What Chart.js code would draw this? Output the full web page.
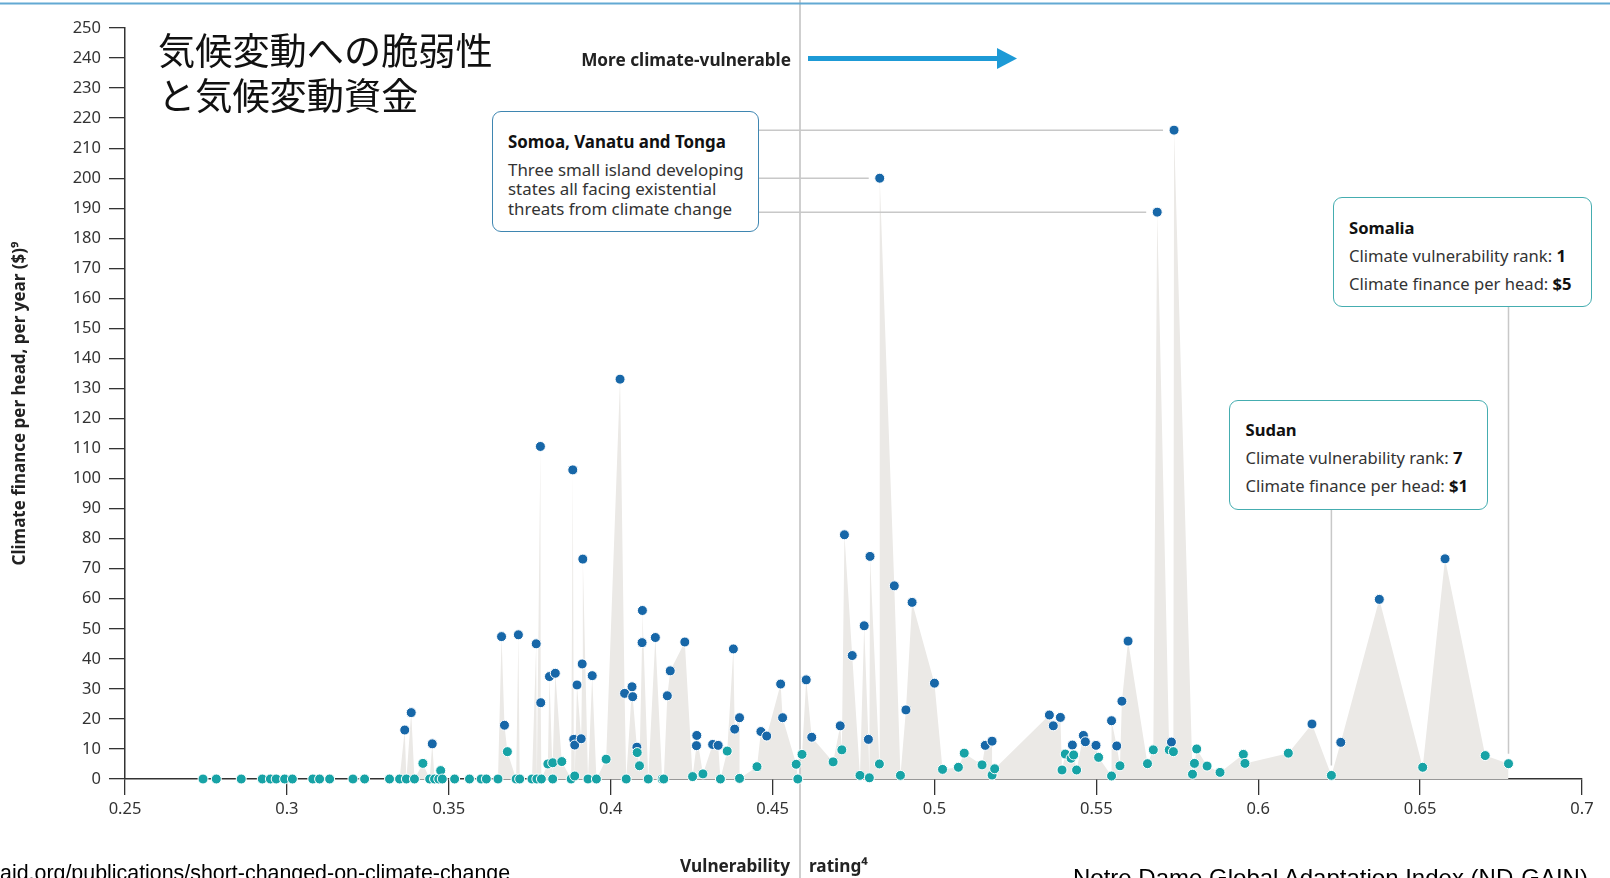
<!DOCTYPE html>
<html>
<head>
<meta charset="utf-8">
<script src="https://cdn.jsdelivr.net/npm/chart.js@4.4.1/dist/chart.umd.min.js"></script>
<style>
html,body{margin:0;padding:0;background:#fff;}
#wrap{position:relative;width:1610px;height:878px;overflow:hidden;font-family:"Noto Sans","Open Sans",sans-serif;color:#222;}
#c{position:absolute;left:0;top:0;}
.abs{position:absolute;white-space:nowrap;}
.box{position:absolute;box-sizing:border-box;border-radius:9px;background:#fff;}
.t{font-size:16.6px;line-height:20px;}
.b{font-weight:700;}
</style>
</head>
<body>
<div id="wrap">
<canvas id="c" width="1610" height="878"></canvas>

<div class="abs" style="left:158px;top:27px;font-family:'Noto Sans CJK JP',sans-serif;font-size:37.2px;line-height:45px;color:#111;">気候変動への脆弱性<br>と気候変動資金</div>

<div class="abs t b" style="right:819px;top:49.5px;color:#222;font-size:17.2px;">More climate-vulnerable</div>
<svg class="abs" style="left:806px;top:46px;" width="214" height="26">
  <rect x="2" y="10" width="191" height="5" fill="#1d9ad6"/>
  <polygon points="191,2 211,12.5 191,23" fill="#1d9ad6"/>
</svg>

<div class="box" style="left:492px;top:111px;width:267px;height:121px;border:1.5px solid #3f86b1;"></div>
<div class="abs t b" style="left:508px;top:131.7px;color:#111;font-size:16.9px;">Somoa, Vanatu and Tonga</div>
<div class="abs t" style="left:508px;top:159.6px;line-height:19.5px;color:#333;font-size:16.9px;">Three small island developing<br>states all facing existential<br>threats from climate change</div>

<div class="box" style="left:1333px;top:197px;width:259px;height:110px;border:1.5px solid #45adb0;"></div>
<div class="abs t b" style="left:1349px;top:218px;color:#111;">Somalia</div>
<div class="abs t" style="left:1349px;top:241.8px;line-height:27.7px;color:#333;">Climate vulnerability rank: <b style="color:#111">1</b><br>Climate finance per head: <b style="color:#111">$5</b></div>

<div class="box" style="left:1229px;top:399.5px;width:259px;height:110px;border:1.5px solid #45adb0;"></div>
<div class="abs t b" style="left:1245.5px;top:420px;color:#111;">Sudan</div>
<div class="abs t" style="left:1245.5px;top:444.2px;line-height:27.7px;color:#333;">Climate vulnerability rank: <b style="color:#111">7</b><br>Climate finance per head: <b style="color:#111">$1</b></div>

<div class="abs t b" style="right:820px;top:856px;color:#222;font-size:17.2px;">Vulnerability</div>
<div class="abs t b" style="left:809px;top:856px;color:#222;font-size:17.2px;">rating⁴</div>

<div class="abs" style="left:0px;top:862px;font-family:'Liberation Sans',Arial,sans-serif;font-size:21.4px;line-height:22px;color:#000;">aid.org/publications/short-changed-on-climate-change</div>
<div class="abs" style="left:1073px;top:864.6px;font-family:'Liberation Sans',Arial,sans-serif;font-size:24px;line-height:26px;color:#000;">Notre Dame Global Adaptation Index (ND-GAIN)</div>
</div>

<script>
// ---- data ----
const vulnerability = [
  0.2741,0.2782,0.2859,0.2924,0.2949,0.2967,0.2993,0.3017,0.3080,0.3101,
  0.3132,0.3204,0.3240,0.3317,0.3348,0.3364,0.3369,0.3384,0.3394,0.3420,
  0.3441,0.3449,0.3456,0.3469,0.3475,0.3480,0.3518,0.3564,0.3600,0.3616,
  0.3652,0.3663,0.3672,0.3681,0.3708,0.3715,0.3719,0.3757,0.3770,0.3772,
  0.3783,0.3784,0.3786,0.3806,0.3811,0.3821,0.3821,0.3829,0.3849,0.3878,
  0.3883,0.3886,0.3889,0.3889,0.3896,0.3909,0.3912,0.3914,0.3930,0.3943,
  0.3956,0.3986,0.4029,0.4043,0.4048,0.4066,0.4068,0.4081,0.4082,0.4089,
  0.4097,0.4098,0.4116,0.4138,0.4159,0.4164,0.4175,0.4184,0.4229,0.4253,
  0.4265,0.4266,0.4285,0.4315,0.4332,0.4339,0.4360,0.4379,0.4383,0.4398,
  0.4398,0.4452,0.4464,0.4482,0.4525,0.4531,0.4573,0.4578,0.4591,0.4604,
  0.4621,0.4687,0.4709,0.4714,0.4722,0.4746,0.4770,0.4783,0.4796,0.4799,
  0.4801,0.4830,0.4831,0.4876,0.4895,0.4912,0.4931,0.5000,0.5025,0.5074,
  0.5092,0.5147,0.5157,0.5178,0.5178,0.5186,0.5355,0.5367,0.5389,0.5394,
  0.5404,0.5422,0.5426,0.5430,0.5439,0.5460,0.5466,0.5499,0.5507,0.5547,
  0.5547,0.5563,0.5573,0.5579,0.5598,0.5658,0.5676,0.5688,0.5725,0.5732,
  0.5738,0.5740,0.5797,0.5803,0.5810,0.5842,0.5882,0.5954,0.5959,0.6093,
  0.6166,0.6226,0.6255,0.6374,0.6508,0.6577,0.6701,0.6773
];
const financePerHead = [
  0,0,0,0,0,0,0,0,0,0,
  0,0,0,0,0,16.3,0,22.1,0,5.2,
  0,11.7,0,0,2.8,0,0,0,0,0,
  0,47.4,17.9,9.1,0,48.0,0,0,45.0,0,
  110.7,25.4,0,5.0,34.1,0,5.4,35.2,5.8,0,
  102.9,13.2,11.3,1.0,31.3,13.4,38.3,73.2,0,34.4,
  0,6.6,133.1,28.5,0,30.7,27.4,10.6,8.8,4.4,
  45.4,56.1,0,47.1,0,0,27.7,36.0,45.6,0.8,
  11.1,14.5,1.7,11.5,11.2,0,9.3,43.3,16.6,20.4,
  0.2,4.1,15.8,14.3,31.6,20.4,4.9,0,8.2,33.0,
  13.9,5.7,17.7,9.7,81.3,41.1,1.2,51.0,13.2,0.4,
  74.1,5.0,200.0,64.3,1.2,23.0,58.8,31.9,3.2,3.9,
  8.6,4.7,11.2,12.6,1.3,3.4,21.3,17.7,20.5,3.0,
  8.3,6.9,11.3,8.0,3.0,14.5,12.4,11.2,7.2,1.0,
  19.4,11.0,4.4,25.9,45.9,5.1,9.7,188.7,9.7,12.3,
  9.1,216.0,1.6,5.2,10.0,4.3,2.2,8.2,5.2,8.6,
  18.3,1.2,12.2,59.8,3.9,73.3,7.8,5.1
];
const xTickValues = [0.25,0.3,0.35,0.4,0.45,0.5,0.55,0.6,0.65,0.7];
const xTickLabels = ['0.25','0.3','0.35','0.4','0.45','0.5','0.55','0.6','0.65','0.7'];
const yTickValues = [0,10,20,30,40,50,60,70,80,90,100,110,120,130,140,150,160,170,180,190,200,210,220,230,240,250];
const highlightRanks = [1, 7];      // Somalia, Sudan (rank by vulnerability)
const islandCount = 3;              // Samoa, Vanuatu, Tonga (largest finance per head)

const BLUE = '#1767a8', TEAL = '#17a3a6', FILL = '#ebe9e6';
const BLUE_THRESHOLD = 10.5;
const FONT = '"Noto Sans","Open Sans",sans-serif';

const points = vulnerability.map((x, i) => ({x: x, y: financePerHead[i]}));

// indices for annotations
const byRank = vulnerability.map((v, i) => i).sort((a, b) => vulnerability[b] - vulnerability[a]);
const islandIdx = financePerHead.map((v, i) => i).sort((a, b) => financePerHead[b] - financePerHead[a]).slice(0, islandCount);
const rankIdx = highlightRanks.map(r => byRank[r - 1]);

const decor = {
  id: 'decor',
  beforeDatasetDraw(chart, args) {
    if (args.index !== 0) return;
    const ctx = chart.ctx;
    ctx.save();
    ctx.strokeStyle = '#cfcfcf';
    ctx.lineWidth = 2;
    ctx.beginPath();
    ctx.moveTo(800, 0);
    ctx.lineTo(800, 878);
    ctx.stroke();
    ctx.restore();
  },
  afterDraw(chart) {
    const ctx = chart.ctx, xs = chart.scales.x, ys = chart.scales.y;
    ctx.save();
    ctx.strokeStyle = '#63a9d3';
    ctx.lineWidth = 2;
    ctx.beginPath(); ctx.moveTo(0, 3.5); ctx.lineTo(1610, 3.5); ctx.stroke();
    ctx.strokeStyle = '#c8c8c8';
    ctx.lineWidth = 1.5;
    islandIdx.forEach(i => {
      const px = xs.getPixelForValue(vulnerability[i]);
      const py = ys.getPixelForValue(financePerHead[i]);
      ctx.beginPath(); ctx.moveTo(759, py); ctx.lineTo(px - 11, py); ctx.stroke();
    });
    const boxBottoms = [307, 509.5];
    rankIdx.forEach((i, k) => {
      const px = xs.getPixelForValue(vulnerability[i]);
      const py = ys.getPixelForValue(financePerHead[i]);
      ctx.beginPath(); ctx.moveTo(px, boxBottoms[k]); ctx.lineTo(px, py - 10); ctx.stroke();
    });
    ctx.restore();
  }
};

new Chart(document.getElementById('c'), {
  type: 'scatter',
  data: {
    datasets: [
      {
        label: 'Countries',
        data: points,
        pointRadius: 5,
        pointHoverRadius: 5,
        pointBackgroundColor: c => (c.raw && c.raw.y > BLUE_THRESHOLD) ? BLUE : TEAL,
        pointBorderColor: '#ffffff',
        pointBorderWidth: 1,
        clip: false,
        order: 0
      },
      {
        type: 'line',
        label: 'Envelope',
        data: points,
        showLine: true,
        fill: 'origin',
        backgroundColor: FILL,
        borderColor: 'rgba(0,0,0,0)',
        borderWidth: 0,
        pointRadius: 0,
        tension: 0,
        order: 1
      }
    ]
  },
  options: {
    responsive: false,
    animation: false,
    events: [],
    layout: {padding: {top: 28, right: 28, left: 0, bottom: 0}},
    plugins: {legend: {display: false}, tooltip: {enabled: false}},
    scales: {
      x: {
        type: 'linear', min: 0.25, max: 0.7,
        afterBuildTicks: s => { s.ticks = xTickValues.map(v => ({value: v})); },
        afterFit: s => { s.height = 99; },
        ticks: {callback: (v, i) => xTickLabels[i], font: {family: FONT, size: 16.5}, color: '#333', padding: 4, maxRotation: 0, autoSkip: false},
        grid: {drawOnChartArea: false, drawTicks: true, tickLength: 16, color: '#333', lineWidth: 1.3},
        border: {display: true, color: '#333', width: 1.5}
      },
      y: {
        min: 0, max: 250,
        afterBuildTicks: s => { s.ticks = yTickValues.map(v => ({value: v})); },
        afterFit: s => { s.width = 125; },
        ticks: {font: {family: FONT, size: 16.5}, color: '#333', padding: 8, autoSkip: false},
        grid: {drawOnChartArea: false, drawTicks: true, tickLength: 16, color: '#333', lineWidth: 1.3},
        border: {display: true, color: '#333', width: 1.5},
        title: {display: true, text: 'Climate finance per head, per year ($)⁹', font: {family: FONT, size: 17, weight: 'bold'}, color: '#222', padding: {top: 10.3, bottom: 0}}
      }
    }
  },
  plugins: [decor]
});
</script>
</body>
</html>
